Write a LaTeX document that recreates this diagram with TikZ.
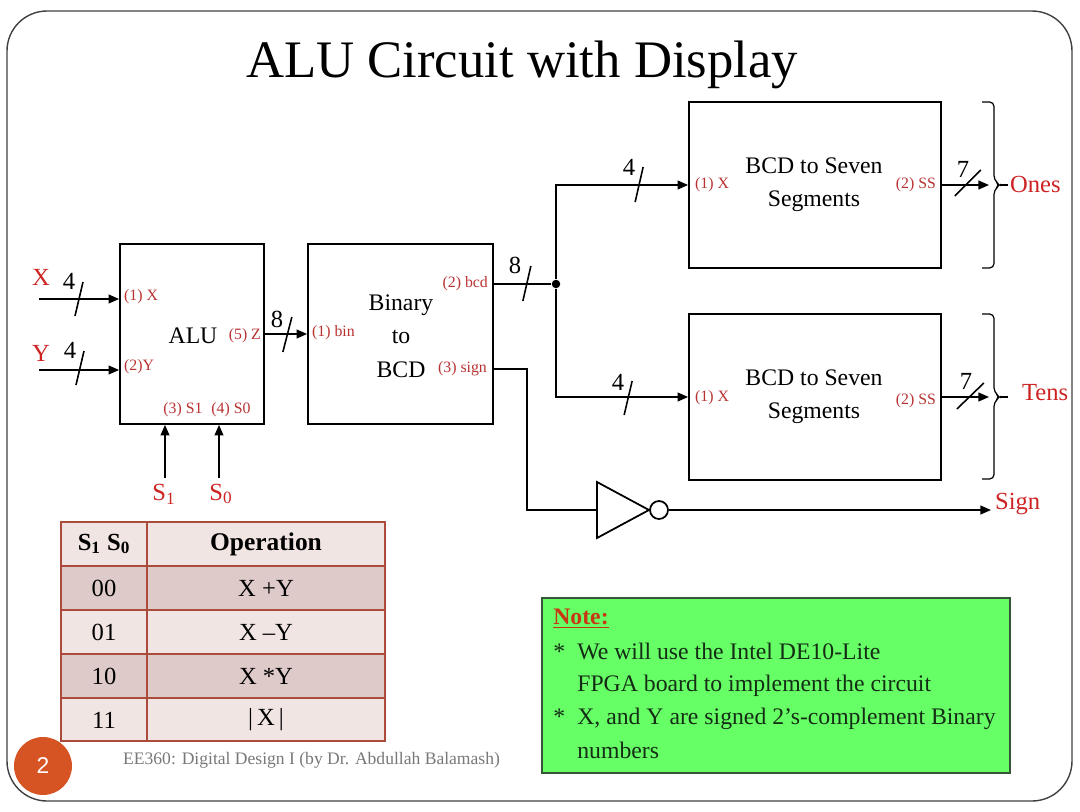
\documentclass[tikz,border=0pt]{standalone}
\usepackage{fontspec}
\setmainfont{Liberation Serif}
\newfontfamily\numfont{Liberation Sans}
\usetikzlibrary{arrows.meta,positioning}

\definecolor{portred}{RGB}{185,50,50}
\definecolor{sigred}{RGB}{205,35,35}
\definecolor{tabline}{RGB}{170,75,60}
\definecolor{darkrow}{RGB}{222,202,201}
\definecolor{lightrow}{RGB}{241,229,227}
\definecolor{notegreen}{RGB}{102,255,102}
\definecolor{noteline}{RGB}{55,85,55}
\definecolor{notered}{RGB}{200,55,20}
\definecolor{notetext}{RGB}{20,45,20}
\definecolor{slideorange}{RGB}{214,84,36}
\definecolor{footgray}{RGB}{120,120,120}

\tikzset{
  blockbox/.style={draw, line width=1pt, fill=white, inner sep=0pt},
  wire/.style={line width=0.9pt},
  sig/.style={wire, -{Triangle[length=6pt,width=5pt]}},
  port/.style={text=portred, font=\fontsize{9}{10}\selectfont, inner sep=1pt},
  bodytext/.style={font=\fontsize{13.5}{19}\selectfont, align=center},
  biglabel/.style={text=sigred, font=\fontsize{14}{16}\selectfont, inner sep=1pt},
  buswidth/.style={font=\fontsize{14}{16}\selectfont, inner sep=1pt},
  cell/.style={font=\fontsize{14}{16}\selectfont},
  notetxt/.style={text=notetext, font=\fontsize{13.5}{16}\selectfont, anchor=west, inner sep=0pt},
  bracket/.style={line width=0.7pt, rounded corners=2.5pt}
}

\begin{document}
\begin{tikzpicture}[x=0.02cm, y=-0.02cm]
    \useasboundingbox (0,0) rectangle (1080,812);

    % slide frame and title
    \draw[black!75, line width=0.8pt, rounded corners=0.8cm] (7,11) rectangle (1072,801);
    \node[font=\fontsize{30}{36}\selectfont] (title) at (522,65) {ALU Circuit with Display};

    % ALU block
    \node[blockbox, minimum width=2.88cm, minimum height=3.6cm] (alu) at (192,334) {};
    \node[bodytext] (alutxt) at (193,336) {ALU};
    \node[port, anchor=west] (alux) at (122,297) {(1) X};
    \node[port, anchor=west] (aluy) at (122,367) {(2)Y};
    \node[port] (alus1) at (183,410) {(3) S1};
    \node[port] (alus0) at (231,410) {(4) S0};
    \node[port, anchor=east] (aluz) at (263,336) {(5) Z};

    % X and Y inputs (4 bits each)
    \node[biglabel] (xlab) at (41,277) {X};
    \node[biglabel] (ylab) at (41,353) {Y};
    \coordinate (xin) at (39,299);
    \coordinate (yin) at (39,370);
    \draw[sig] (xin) -- (xin -| alu.west);
    \draw[sig] (yin) -- (yin -| alu.west);
    \draw[wire] (xin) ++(36,17) -- ++(8,-34);
    \draw[wire] (yin) ++(37,15) -- ++(8,-34);
    \node[buswidth] (xw) at (69,281) {4};
    \node[buswidth] (yw) at (70,350) {4};

    % select lines
    \node[biglabel] (s1lab) at (164,494) {S\textsubscript{1}};
    \node[biglabel] (s0lab) at (221,494) {S\textsubscript{0}};
    \coordinate (s1in) at (165,478);
    \coordinate (s0in) at (219,478);
    \draw[sig] (s1in) -- (s1in |- alu.south);
    \draw[sig] (s0in) -- (s0in |- alu.south);

    % Binary to BCD block
    \node[blockbox, minimum width=3.7cm, minimum height=3.6cm] (bin) at (400.5,334) {};
    \node[bodytext] (bintxt) at (401,336) {Binary\\to\\BCD};
    \node[port, anchor=west] (binin) at (310,333) {(1) bin};
    \node[port, anchor=east] (binbcd) at (490,284) {(2) bcd};
    \node[port, anchor=east] (binsign) at (489,369) {(3) sign};

    % Z bus (8 bits)
    \draw[sig] (alu.east) -- (bin.west);
    \draw[wire] (alu.east) ++(18,18) -- ++(9,-35);
    \node[buswidth] (zw) at (277,319) {8};

    % BCD to seven segment blocks
    \node[blockbox, minimum width=5.04cm, minimum height=3.32cm] (onesbox) at (815,185) {};
    \node[blockbox, minimum width=5.04cm, minimum height=3.32cm] (tensbox) at (815,397) {};
    \node[bodytext] (onestxt) at (814,185) {BCD to Seven\\Segments};
    \node[bodytext] (tenstxt) at (814,397) {BCD to Seven\\Segments};
    \node[port, anchor=west] (onesx) at (693,185) {(1) X};
    \node[port, anchor=east] (oness) at (938,185) {(2) SS};
    \node[port, anchor=west] (tensx) at (693,398) {(1) X};
    \node[port, anchor=east] (tenss) at (938,401) {(2) SS};

    % bcd bus split
    \coordinate (bcdout) at (bin.east |- 0,284);
    \node[circle, fill, inner sep=0pt, minimum size=0.17cm] (split) at (556,284) {};
    \draw[wire] (bcdout) -- (split);
    \draw[wire] (bcdout) ++(29,17) -- ++(8,-35);
    \node[buswidth] (bcdw) at (515,265) {8};
    \draw[sig] (split) |- (onesbox.west);
    \draw[sig] (split) |- (tensbox.west);
    \draw[wire] (onesbox.west) ++(-53,17) -- ++(8,-35);
    \draw[wire] (tensbox.west) ++(-64,18) -- ++(8,-34);
    \node[buswidth] (onesw) at (629,167) {4};
    \node[buswidth] (tensw) at (618,382) {4};

    % seven segment outputs
    \coordinate (onesend) at (989,185);
    \coordinate (tensend) at (989,397);
    \draw[sig] (onesbox.east) -- (onesend);
    \draw[sig] (tensbox.east) -- (tensend);
    \draw[wire] (onesbox.east) ++(13,11) -- ++(26,-26);
    \draw[wire] (tensbox.east) ++(15,12) -- ++(27,-26);
    \node[buswidth] (onesw7) at (963,169) {7};
    \node[buswidth] (tensw7) at (966,381) {7};

    % braces
    \coordinate (onestip) at (1000,185);
    \coordinate (tenstip) at (1000,397);
    \draw[bracket] (982,102) -- (994,102) -- (994,180) -- (onestip) -- (994,190) -- (994,268) -- (982,268);
    \draw[bracket] (982,314) -- (994,314) -- (994,392) -- (tenstip) -- (994,402) -- (994,479) -- (982,479);
    \draw[line width=0.7pt] (onestip) -- ++(8,0);
    \draw[line width=0.7pt] (tenstip) -- ++(8,0);
    \node[biglabel, anchor=west] (oneslab) at (1008,184) {Ones};
    \node[biglabel, anchor=west] (tenslab) at (1020,393) {Tens};

    % sign path with inverter
    \coordinate (signout) at (bin.east |- 0,369);
    \coordinate (invin) at (597,510);
    \draw[wire] (signout) -- (527,369) |- (invin);
    \draw[line width=1pt, fill=white] (invin) ++(0,-28) -- ++(52,28) -- ++(-52,28) -- cycle;
    \node[draw, circle, line width=1pt, inner sep=0pt, minimum size=0.36cm] (bubble) at (659,510) {};
    \coordinate (signend) at (991,510);
    \draw[sig] (bubble.east) -- (signend);
    \node[biglabel, anchor=west] (signlab) at (993,504) {Sign};

    % page number
    \node[circle, fill=slideorange, minimum size=1.16cm, inner sep=0pt,
          text=white, font=\numfont\fontsize{13}{15}\selectfont] (pagenum) at (43,766) {2};
    \node[text=footgray, font=\fontsize{10}{12}\selectfont, anchor=west] (footer) at (117,760)
        {EE360: Digital Design I (by Dr. Abdullah Balamash)};

    % operation table
    \fill[lightrow] (61,522) rectangle (385,741);
    \fill[darkrow] (61,566) rectangle (385,610);
    \fill[darkrow] (61,654) rectangle (385,698);
    \draw[tabline, line width=1.1pt] (61,522) rectangle (385,741);
    \foreach \y in {566,610,654,698}
      \draw[tabline, line width=1.1pt] (61,\y) -- (385,\y);
    \draw[tabline, line width=1.1pt] (147,522) -- (147,741);
    \node[cell, font=\fontsize{14}{16}\selectfont\bfseries] (hsel) at (104,544) {S\textsubscript{1} S\textsubscript{0}};
    \node[cell, font=\fontsize{14.5}{16}\selectfont\bfseries] (hop) at (266,544) {Operation};
    \node[cell] (c00) at (104,588) {00};
    \node[cell] (op00) at (266,588) {X +Y};
    \node[cell] (c01) at (104,632) {01};
    \node[cell] (op01) at (266,632) {X –Y};
    \node[cell] (c10) at (104,676) {10};
    \node[cell] (op10) at (266,676) {X *Y};
    \node[cell] (c11) at (104,720) {11};
    \node[cell] (op11) at (266,720) {|\,X\,|};

    % note box
    \node[draw=noteline, fill=notegreen, line width=1pt, minimum width=9.36cm, minimum height=3.5cm] (note) at (776,685.5) {};
    \node[notetxt, text=notered, font=\fontsize{13.5}{16}\selectfont\bfseries] (notehead) at (553,619) {\underline{Note:}};
    \node[notetxt] (note1) at (553,651) {\makebox[0.48cm][l]{*}We will use the Intel DE10-Lite};
    \node[notetxt] (note2) at (577,686) {FPGA board to implement the circuit};
    \node[notetxt] (note3) at (553,719) {\makebox[0.48cm][l]{*}X, and Y are signed 2’s-complement Binary};
    \node[notetxt] (note4) at (577,750) {numbers};
\end{tikzpicture}
\end{document}
